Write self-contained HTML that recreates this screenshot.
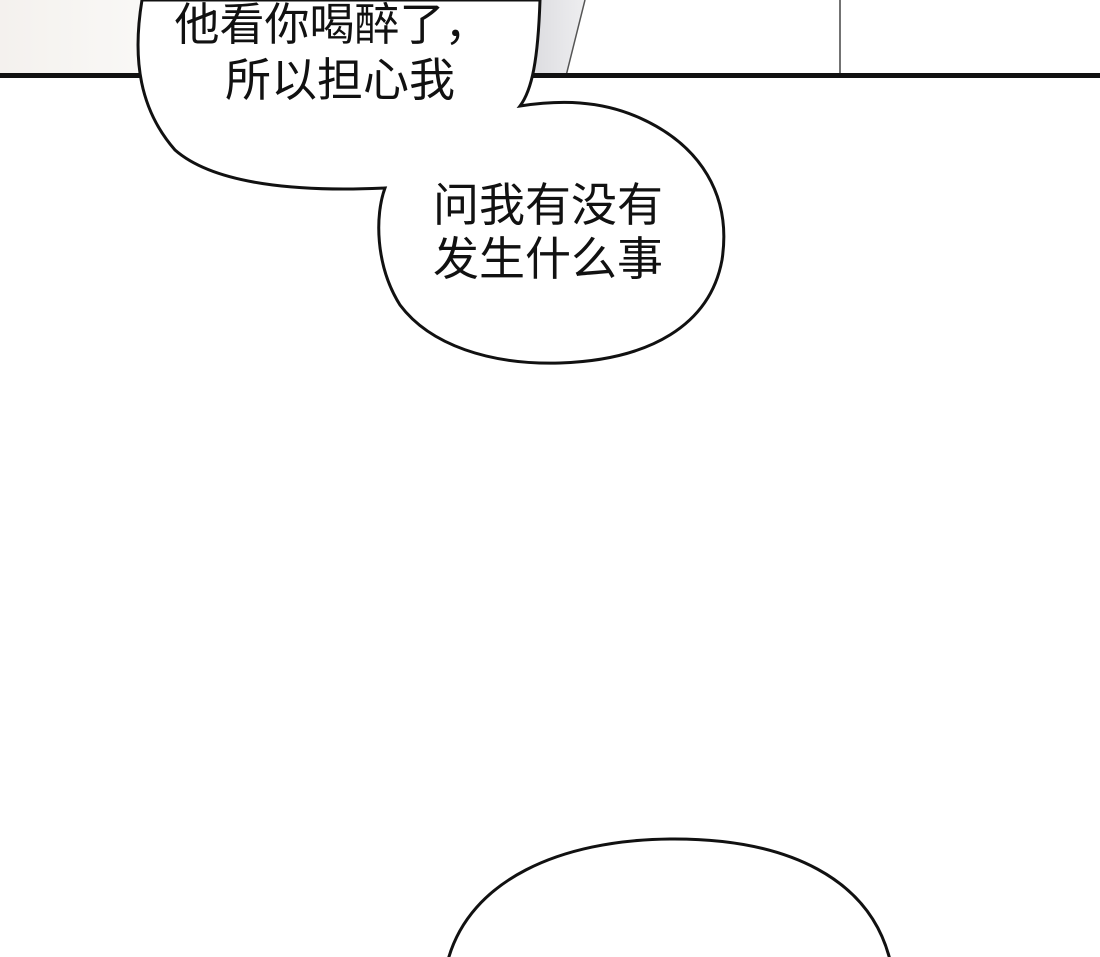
<!DOCTYPE html>
<html><head><meta charset="utf-8"><style>
html,body{margin:0;padding:0;width:1100px;height:957px;overflow:hidden;background:#fff}
svg{display:block}
text{font-family:"Liberation Sans","Noto Sans CJK SC",sans-serif;fill:#111}
</style></head><body>
<svg width="1100" height="957" viewBox="0 0 1100 957">
<defs><linearGradient id="g" x1="0" x2="1"><stop offset="0" stop-color="#f4f1ee"/><stop offset="1" stop-color="#faf9f7"/></linearGradient>
<linearGradient id="g2" x1="0" x2="1"><stop offset="0" stop-color="#d8d8dc"/><stop offset="1" stop-color="#eeeef0"/></linearGradient></defs>
<rect x="0" y="0" width="160" height="76" fill="url(#g)"/>
<polygon points="520,0 585,0 566,76 520,76" fill="url(#g2)"/>
<line x1="585" y1="0" x2="566" y2="76" stroke="#555" stroke-width="1.5"/>
<line x1="840" y1="0" x2="840" y2="76" stroke="#444" stroke-width="1.5"/>
<rect x="0" y="73" width="1100" height="5" fill="#111"/>
<path d="M142,0 C132,60 140,110 175,150 C215,185 300,192 385,188 C375,215 375,265 400,305 C430,345 490,365 560,363 C650,360 710,325 722,260 C732,195 700,145 640,118 C600,100 560,100 520,106 C532,90 538,60 540,0 Z" fill="#fff" stroke="#111" stroke-width="3"/>
<text x="332" y="40" font-size="45" text-anchor="middle">他看你喝醉了，</text>
<text x="340" y="96" font-size="46" text-anchor="middle">所以担心我</text>
<text x="548" y="221" font-size="46" text-anchor="middle">问我有没有</text>
<text x="548" y="275" font-size="46" text-anchor="middle">发生什么事</text>
<path d="M448,960 C470,880 560,840 670,839 C790,838 870,880 890,960" fill="#fff" stroke="#111" stroke-width="3"/>
</svg>
</body></html>
